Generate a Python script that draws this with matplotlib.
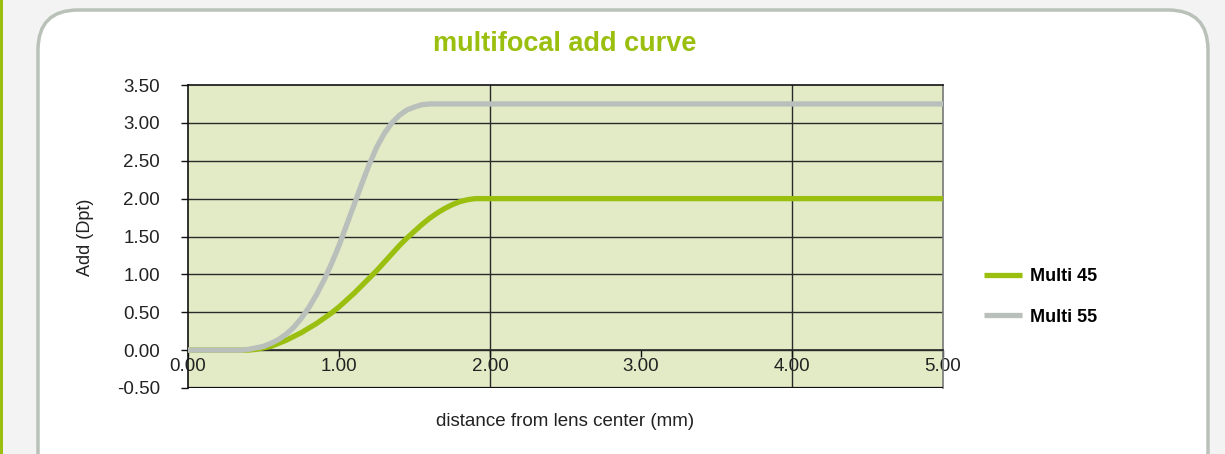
import matplotlib
matplotlib.use('Agg')
import matplotlib.pyplot as plt
from matplotlib.patches import FancyBboxPatch, Rectangle

plt.rcParams['font.family'] = ['Liberation Sans', 'DejaVu Sans']

GREEN = '#9abf0f'
GREY = '#b9bfbb'

dist = [0.0, 0.05, 0.1, 0.15, 0.2, 0.25, 0.3, 0.35, 0.4, 0.45, 0.5, 0.55,
        0.6, 0.65, 0.7, 0.75, 0.8, 0.85, 0.9, 0.95, 1.0, 1.05, 1.1, 1.15,
        1.2, 1.25, 1.3, 1.35, 1.4, 1.45, 1.5, 1.55, 1.6, 1.65, 1.7, 1.75,
        1.8, 1.85, 1.9, 1.95, 2.0, 3.0, 4.0, 5.0]
multi45 = [0.0, 0.0, 0.0, 0.0, 0.0, 0.0, 0.0, 0.0, 0.0, 0.01, 0.03, 0.05,
           0.09, 0.13, 0.18, 0.23, 0.29, 0.35, 0.42, 0.49, 0.57, 0.66, 0.75,
           0.85, 0.95, 1.05, 1.16, 1.27, 1.38, 1.48, 1.57, 1.66, 1.74, 1.81,
           1.87, 1.92, 1.96, 1.985, 2.0, 2.0, 2.0, 2.0, 2.0, 2.0]
multi55 = [0.0, 0.0, 0.0, 0.0, 0.0, 0.0, 0.0, 0.0, 0.01, 0.03, 0.05, 0.09,
           0.14, 0.21, 0.30, 0.42, 0.56, 0.73, 0.92, 1.14, 1.38, 1.65, 1.92,
           2.19, 2.45, 2.68, 2.86, 3.0, 3.10, 3.17, 3.21, 3.24, 3.25, 3.25,
           3.25, 3.25, 3.25, 3.25, 3.25, 3.25, 3.25, 3.25, 3.25, 3.25]
series_names = ['Multi 45', 'Multi 55']
yticks = [-0.5, 0.0, 0.5, 1.0, 1.5, 2.0, 2.5, 3.0, 3.5]
xticks = [0, 1, 2, 3, 4, 5]

W, H = 1225, 454
fig = plt.figure(figsize=(W / 100, H / 100), dpi=100)
fig.patch.set_facecolor('#f2f3f2')

# rounded white panel and left green strip
fig.patches.append(FancyBboxPatch(
    (38, -60), 1170, H - 10 + 60, boxstyle='round,pad=0,rounding_size=40',
    transform=None, facecolor='white', edgecolor='#b9c1b9', linewidth=2.5,
    zorder=-10))
fig.patches.append(Rectangle((0, 0), 2.5, H, transform=None,
                             facecolor=GREEN, edgecolor='none', zorder=-10))

ax = fig.add_axes([188 / W, 66 / H, 755 / W, 303 / H])
ax.set_zorder(5)
ax.set_facecolor('#e3eac6')

for yv in yticks[1:-1]:
    ax.axhline(yv, color='#2a2a2a', lw=1.0, zorder=1)
for xv in (2, 4):
    ax.axvline(xv, color='#2a2a2a', lw=1.0, zorder=1)

ax.plot(dist, multi45, color=GREEN, lw=3.8, label=series_names[0],
        solid_capstyle='butt', solid_joinstyle='round', zorder=3)
ax.plot(dist, multi55, color=GREY, lw=3.8, label=series_names[1],
        solid_capstyle='butt', solid_joinstyle='round', zorder=3)

ax.set_xlim(0, 5)
ax.set_ylim(-0.5, 3.5)
ax.set_yticks(yticks)
ax.set_yticklabels(['%.2f' % v for v in yticks])
ax.set_xticks(xticks)
ax.set_xticklabels(['%.2f' % v for v in xticks])

ax.spines['bottom'].set_position(('data', 0))
ax.spines['bottom'].set_color('#2a2a2a')
ax.spines['left'].set_color('#111111')
ax.spines['top'].set_color('#111111')
ax.spines['right'].set_color('#777777')
ax.axhline(-0.5, color='#111111', lw=1.6, zorder=4)
for sp in ax.spines.values():
    sp.set_linewidth(1.2)

ax.tick_params(axis='y', direction='out', length=5, width=1, pad=15,
               labelsize=13.5, colors='#111111', labelcolor='#222222')
ax.tick_params(axis='x', direction='out', length=5, width=1, pad=1,
               labelsize=13.5, colors='#111111', labelcolor='#222222')

fig.text(565 / W, 1 - 44 / H, 'multifocal add curve', color=GREEN,
         fontsize=19.5, fontweight='bold', ha='center', va='center')
fig.text(85 / W, 1 - 237 / H, 'Add (Dpt)', rotation=90, fontsize=13,
         color='#222222', ha='center', va='center')
fig.text(565 / W, 1 - 422 / H, 'distance from lens center (mm)',
         fontsize=13.5, color='#222222', ha='center', va='center')

fig.legend(loc='upper left', bbox_to_anchor=(968 / W, 1 - 252 / H),
           frameon=False, handlelength=2.1, handletextpad=0.45,
           labelspacing=1.3, prop={'size': 13, 'weight': 'bold'})

fig.savefig('out.png', dpi=100, facecolor=fig.get_facecolor())
